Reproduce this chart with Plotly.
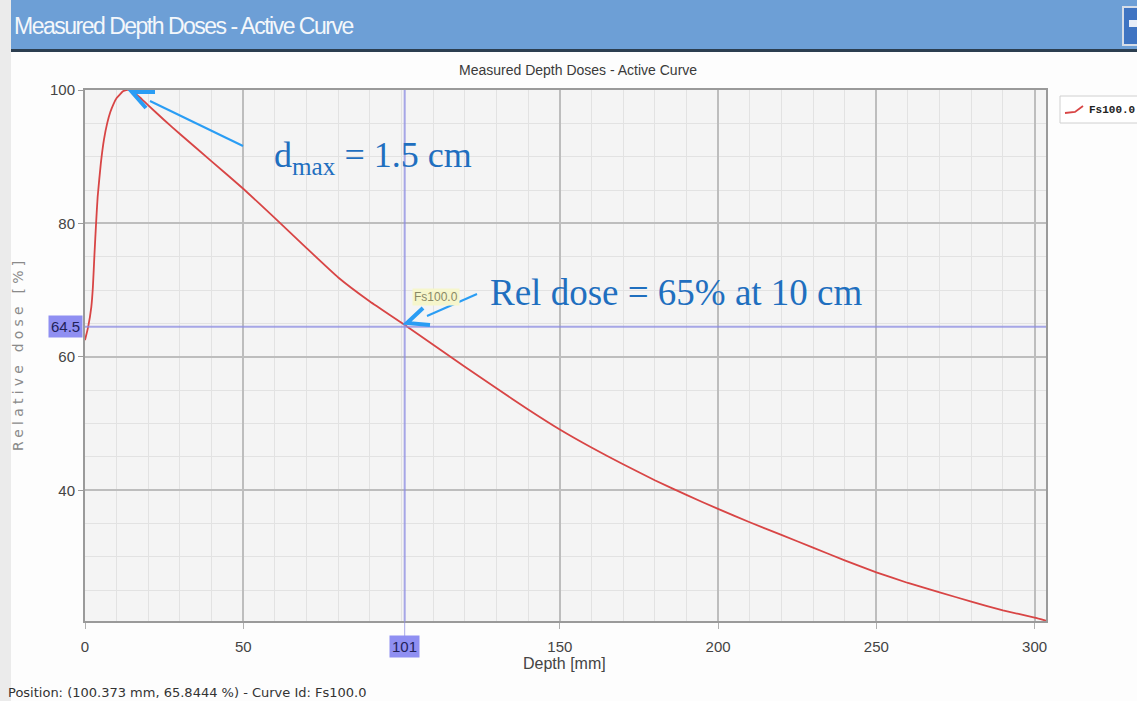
import plotly.graph_objects as go

# ---- data ----
depth_mm = [0, 1, 2, 2.5, 3, 3.5, 4, 5, 6, 7, 8, 9, 10, 12, 13, 14, 15, 16, 18, 20, 25, 30,
            40, 50, 60, 70, 80, 90, 100, 110, 120, 130, 140, 150, 160, 170, 180, 190,
            200, 210, 220, 230, 240, 250, 260, 270, 280, 290, 300, 304]
rel_dose = [62.5, 64.5, 67.5, 70.5, 75.5, 80.0, 84.0, 89.0, 92.6, 95.0, 96.7, 97.9,
            98.8, 99.8, 100.0, 100.0, 99.8, 99.4, 98.6, 97.7, 95.5, 93.4,
            89.3, 85.2, 80.8, 76.3, 71.9, 68.3, 65.1, 61.8, 58.5, 55.3, 52.1, 49.1,
            46.4, 43.9, 41.5, 39.3, 37.2, 35.2, 33.3, 31.4, 29.5, 27.7, 26.1, 24.7,
            23.3, 22.0, 20.9, 20.4]
curve_name = "Fs100.0"
cross_x = 101
cross_y = 64.5
x_ticks = [0, 50, 150, 200, 250, 300]
y_ticks = [40, 60, 80, 100]

W, H = 1137, 701
L, R, T, B = 85, 1046, 90, 621


def px(x):
    return (x - L) / (R - L)


def py(y):
    return (B - y) / (B - T)


SANS = "Liberation Sans, Arial, sans-serif"
SERIF = "Liberation Serif, Times New Roman, serif"
MONO = "Liberation Mono, Courier New, monospace"
BLUE_TXT = "#1f6fbf"
ARROW = "#2a9df4"
CURVE = "#d84545"

fig = go.Figure()
fig.add_trace(go.Scatter(x=depth_mm, y=rel_dose, mode="lines", name=curve_name, showlegend=False,
                         line=dict(color=CURVE, width=1.8, shape="spline", smoothing=0.4)))

shapes = []
# left strip
shapes.append(dict(type="rect", xref="paper", yref="paper", x0=px(0), x1=px(11), y0=py(H), y1=py(0),
                   fillcolor="#ebebeb", line=dict(width=0), layer="below"))
# title bar
shapes.append(dict(type="rect", xref="paper", yref="paper", x0=px(11), x1=px(W), y0=py(49), y1=py(0),
                   fillcolor="#6d9fd6", line=dict(width=0), layer="below"))
shapes.append(dict(type="rect", xref="paper", yref="paper", x0=px(11), x1=px(W), y0=py(52), y1=py(49),
                   fillcolor="#2c3e50", line=dict(width=0), layer="below"))
# window button
shapes.append(dict(type="rect", xref="paper", yref="paper", x0=px(1123), x1=px(1142), y0=py(45), y1=py(7),
                   fillcolor="#3f74c2", line=dict(color="#d6dde8", width=2), layer="below"))
shapes.append(dict(type="rect", xref="paper", yref="paper", x0=px(1129), x1=px(1142), y0=py(27), y1=py(20),
                   fillcolor="#e8eef8", line=dict(width=0), layer="below"))
# legend box + sample
shapes.append(dict(type="rect", xref="paper", yref="paper", x0=px(1060), x1=px(1145), y0=py(123), y1=py(96),
                   fillcolor="#ffffff", line=dict(color="#d0d0d0", width=1), layer="below"))
shapes.append(dict(type="path", xref="paper", yref="paper",
                   path=f"M {px(1065)},{py(113)} L {px(1075)},{py(112)} L {px(1083)},{py(106)}",
                   line=dict(color=CURVE, width=1.8)))
# crosshair
shapes.append(dict(type="line", xref="x", yref="paper", x0=cross_x, x1=cross_x, y0=0, y1=1,
                   line=dict(color="rgba(140,140,225,0.75)", width=2)))
shapes.append(dict(type="line", xref="paper", yref="y", x0=0, x1=1, y0=cross_y, y1=cross_y,
                   line=dict(color="rgba(140,140,225,0.75)", width=2)))
shapes.append(dict(type="line", xref="x", yref="paper", x0=cross_x, x1=cross_x, y0=py(621), y1=py(636),
                   line=dict(color="rgba(140,140,225,0.75)", width=1)))
# arrows (line + chevron head)
shapes.append(dict(type="line", xref="paper", yref="paper", x0=px(150), y0=py(101), x1=px(243), y1=py(146),
                   line=dict(color=ARROW, width=2)))
shapes.append(dict(type="path", xref="paper", yref="paper",
                   path=f"M {px(155)},{py(92)} L {px(132)},{py(92)} L {px(146)},{py(108)}",
                   line=dict(color=ARROW, width=4)))
shapes.append(dict(type="line", xref="paper", yref="paper", x0=px(427), y0=py(316), x1=px(477), y1=py(294),
                   line=dict(color=ARROW, width=2)))
shapes.append(dict(type="path", xref="paper", yref="paper",
                   path=f"M {px(423)},{py(308)} L {px(407)},{py(323)} L {px(430)},{py(325)}",
                   line=dict(color=ARROW, width=4)))

annotations = []
annotations.append(dict(text="<span style='letter-spacing:-1.5px'>Measured Depth Doses - Active Curve</span>",
                        xref="paper", yref="paper",
                        x=px(12), y=py(26), xanchor="left", yanchor="middle", showarrow=False,
                        font=dict(family=SANS, size=23, color="#f4f7fb")))
annotations.append(dict(text="Measured Depth Doses - Active Curve", xref="paper", yref="paper",
                        x=px(578), y=py(70), xanchor="center", yanchor="middle", showarrow=False,
                        font=dict(family=SANS, size=14, color="#3a3a3a")))
annotations.append(dict(text="<span style='letter-spacing:4.2px'>Relative dose [%]</span>",
                        xref="paper", yref="paper", textangle=-90,
                        x=px(18), y=py(354), xanchor="center", yanchor="middle", showarrow=False,
                        font=dict(family="DejaVu Sans", size=14, color="#8a8a8a")))
annotations.append(dict(text="Depth [mm]", xref="paper", yref="paper",
                        x=px(564), y=py(663), xanchor="center", yanchor="middle", showarrow=False,
                        font=dict(family=SANS, size=16, color="#444444")))
annotations.append(dict(text="Position: (100.373 mm, 65.8444 %) - Curve Id: Fs100.0", xref="paper", yref="paper",
                        x=px(6), y=py(692), xanchor="left", yanchor="middle", showarrow=False,
                        font=dict(family="DejaVu Sans", size=13, color="#333333")))
annotations.append(dict(text=str(cross_y), xref="paper", yref="y", x=px(83), y=cross_y,
                        xanchor="right", yanchor="middle", showarrow=False, bgcolor="#8f8ff2",
                        borderpad=2, font=dict(family=SANS, size=15, color="#22225a")))
annotations.append(dict(text=str(cross_x), xref="x", yref="paper", x=cross_x, y=py(646),
                        xanchor="center", yanchor="middle", showarrow=False, bgcolor="#8f8ff2",
                        borderpad=2, font=dict(family=SANS, size=15, color="#22225a")))
annotations.append(dict(text=curve_name, xref="paper", yref="paper", x=px(412), y=py(297),
                        xanchor="left", yanchor="middle", showarrow=False, bgcolor="#f6f6cc",
                        font=dict(family=SANS, size=12, color="#8a8a66")))
annotations.append(dict(text="<b>" + curve_name + "</b>", xref="paper", yref="paper", x=px(1087), y=py(110),
                        xanchor="left", yanchor="middle", showarrow=False,
                        font=dict(family=MONO, size=11, color="#222222")))
annotations.append(dict(text="d<sub>max</sub> = 1.5 cm", xref="paper", yref="paper",
                        x=px(272), y=py(157), xanchor="left", yanchor="middle", showarrow=False,
                        font=dict(family=SERIF, size=36, color=BLUE_TXT)))
annotations.append(dict(text="Rel dose = 65% at 10 cm", xref="paper", yref="paper",
                        x=px(488), y=py(292), xanchor="left", yanchor="middle", showarrow=False,
                        font=dict(family=SERIF, size=37, color=BLUE_TXT)))

fig.update_layout(
    width=W, height=H,
    margin=dict(l=L, r=W - R, t=T, b=H - B, pad=0, autoexpand=False),
    paper_bgcolor="#fdfdfd",
    plot_bgcolor="#f4f4f4",
    showlegend=False,
    shapes=shapes,
    annotations=annotations,
    xaxis=dict(range=[0, 303.6], tickmode="array", tickvals=x_ticks, ticktext=[str(v) for v in x_ticks],
               showgrid=True, gridcolor="#bdbdbd", gridwidth=2,
               minor=dict(dtick=10, tick0=0, showgrid=True, gridcolor="#e2e2e2", gridwidth=1),
               showline=True, linecolor="#9a9a9a", linewidth=2, mirror=True,
               ticks="outside", ticklen=6, tickcolor="#b0b0b0", tickwidth=1, ticklabelstandoff=5,
               tickfont=dict(family=SANS, size=15, color="#444444"), zeroline=False, fixedrange=True),
    yaxis=dict(range=[20.4, 100], tickmode="array", tickvals=y_ticks, ticktext=[str(v) for v in y_ticks],
               showgrid=True, gridcolor="#bdbdbd", gridwidth=2,
               minor=dict(dtick=5, tick0=0, showgrid=True, gridcolor="#e2e2e2", gridwidth=1),
               showline=True, linecolor="#9a9a9a", linewidth=2, mirror=True,
               ticks="outside", ticklen=5, tickcolor="#9a9a9a", tickwidth=1,
               tickfont=dict(family=SANS, size=15, color="#444444"), zeroline=False, fixedrange=True),
)

fig.write_html("out.html")
